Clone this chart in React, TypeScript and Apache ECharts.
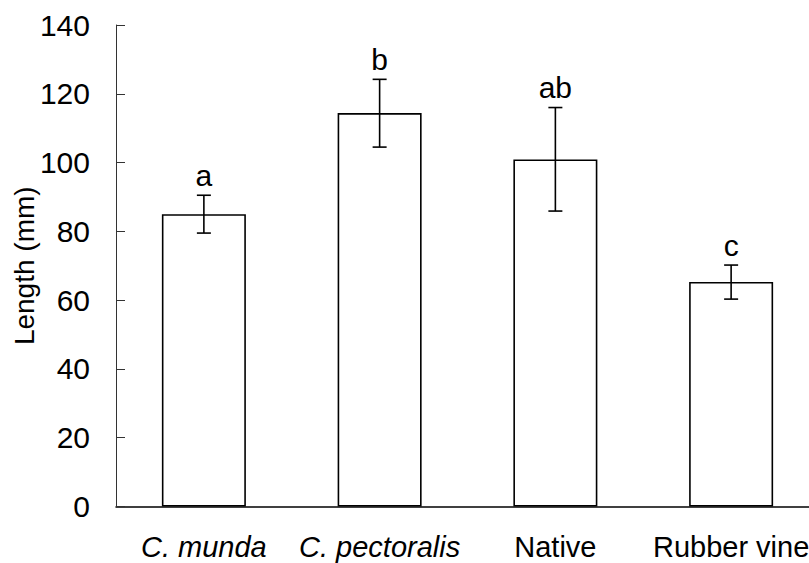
import React, { useEffect, useRef } from "react";
import * as echarts from "echarts";

// Mean lengths per host, with standard error bounds and significance letters
const categories = ["C. munda", "C. pectoralis", "Native", "Rubber vine"];
const italicNames = [true, true, false, false];
const meanLength = [85.0, 114.4, 100.9, 65.3];
const errorLow = [79.5, 104.5, 85.9, 60.3];
const errorHigh = [90.5, 124.2, 116.0, 70.2];
const groupLetters = ["a", "b", "ab", "c"];
const yTicks = { min: 0, max: 140, interval: 20 };

const FONT = "'Liberation Sans', Arial, sans-serif";

export default function App() {
  const ref = useRef<HTMLDivElement>(null);

  useEffect(() => {
    if (!ref.current) return;
    const chart = echarts.init(ref.current, null, { renderer: "svg" });

    const errorData = categories.map((_, i) => [
      i,
      errorLow[i],
      errorHigh[i],
      groupLetters[i],
    ]);

    chart.setOption({
      animation: false,
      backgroundColor: "#ffffff",
      grid: {
        left: 116,
        top: 25,
        width: 703,
        height: 481.5,
        containLabel: false,
        outerBoundsMode: "none",
      },
      xAxis: {
        type: "category",
        data: categories,
        axisLine: { lineStyle: { color: "#000", width: 1.5 } },
        axisTick: { show: false },
        axisLabel: {
          margin: 26,
          formatter: (v: string) => {
            const i = categories.indexOf(v);
            return italicNames[i] ? `{i|${v}}` : `{n|${v}}`;
          },
          rich: {
            i: { fontFamily: FONT, fontSize: 29, fontStyle: "italic", color: "#000" },
            n: { fontFamily: FONT, fontSize: 29, color: "#000" },
          },
        },
        splitLine: { show: false },
      },
      yAxis: {
        type: "value",
        min: yTicks.min,
        max: yTicks.max,
        interval: yTicks.interval,
        name: "Length (mm)",
        nameLocation: "middle",
        nameGap: 78,
        nameMoveOverlap: false,
        nameTextStyle: { fontFamily: FONT, fontSize: 28, color: "#000" },
        axisLine: { show: true, lineStyle: { color: "#333", width: 1 } },
        axisTick: { show: true, inside: true, length: 9, lineStyle: { color: "#333", width: 1 } },
        axisLabel: { margin: 26, fontFamily: FONT, fontSize: 30, color: "#000" },
        splitLine: { show: false },
      },
      series: [
        {
          type: "bar",
          data: meanLength,
          barWidth: 84,
          itemStyle: { color: "#fff", borderColor: "#000", borderWidth: 1.6 },
        },
        {
          type: "custom",
          data: errorData,
          z: 5,
          renderItem: (params: any, api: any) => {
            const idx = api.value(0);
            const lo = api.coord([idx, api.value(1)]);
            const hi = api.coord([idx, api.value(2)]);
            const x = lo[0];
            const cap = 7;
            const style = { stroke: "#000", lineWidth: 1.6 };
            return {
              type: "group",
              children: [
                { type: "line", shape: { x1: x, y1: lo[1], x2: x, y2: hi[1] }, style },
                { type: "line", shape: { x1: x - cap, y1: hi[1], x2: x + cap, y2: hi[1] }, style },
                { type: "line", shape: { x1: x - cap, y1: lo[1], x2: x + cap, y2: lo[1] }, style },
                {
                  type: "text",
                  x: x,
                  y: hi[1] - 5,
                  style: {
                    text: groupLetters[params.dataIndex],
                    fontFamily: FONT,
                    fontSize: 30,
                    fill: "#000",
                    align: "center",
                    verticalAlign: "bottom",
                  },
                },
              ],
            };
          },
        },
      ],
    });

    return () => chart.dispose();
  }, []);

  return (
    <div
      ref={ref}
      style={{ position: "fixed", left: 0, top: 0, width: 809, height: 563 }}
    />
  );
}
